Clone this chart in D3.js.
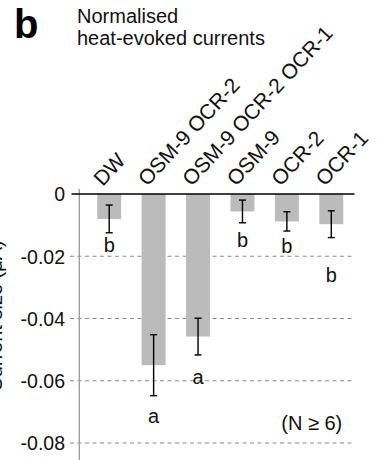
<!DOCTYPE html>
<html>
<head>
<meta charset="utf-8">
<script src="https://cdn.jsdelivr.net/npm/d3@7"></script>
<style>
  html, body { margin: 0; padding: 0; background: #fff; }
  svg { display: block; font-family: "Liberation Sans", Arial, Helvetica, sans-serif; }
</style>
</head>
<body>
<svg id="chart" width="382" height="460"></svg>
<script>
// ---- data ----
const categories = ["DW", "OSM-9 OCR-2", "OSM-9 OCR-2 OCR-1", "OSM-9", "OCR-2", "OCR-1"];
const means = [-0.0080, -0.0550, -0.0458, -0.0056, -0.0088, -0.0097];
const errors = [0.00445, 0.0098, 0.0059, 0.00365, 0.0031, 0.0043];
const groupLetters = ["b", "a", "a", "b", "b", "b"];
const letterValues = [-0.0185, -0.0736, -0.0610, -0.0169, -0.0189, -0.0284];
const yTicks = [0, -0.02, -0.04, -0.06, -0.08];
const yTickLabels = ["0", "-0.02", "-0.04", "-0.06", "-0.08"];
const titleLetter = "b";
const titleLines = ["Normalised", "heat-evoked currents"];
const yTitle = "Current size (μA)";
const noteText = "(N ≥ 6)";
const noteValue = -0.0758;

// ---- scales ----
const svg = d3.select("#chart");
const x = d3.scaleBand().domain(categories).range([87, 353.5]).paddingInner(0.46).paddingOuter(0.23);
const y = d3.scaleLinear().domain([0, -0.08]).range([194, 443]);

const font = 20;

// title
svg.append("text").attr("x", 14).attr("y", 38).attr("font-size", 40).attr("font-weight", "bold").attr("fill", "#000").text(titleLetter);
svg.append("g").selectAll("text").data(titleLines).join("text")
  .attr("x", 77).attr("y", (d, i) => 22.7 + i * 22.5)
  .attr("font-size", font).attr("fill", "#111").text(d => d);

// y axis title (mostly off-canvas, as in the original)
svg.append("text")
  .attr("transform", `translate(2,316) rotate(-90)`)
  .attr("text-anchor", "middle").attr("font-size", font).attr("fill", "#111")
  .text(yTitle);

// gridlines (dashed) for non-zero ticks
svg.append("g").selectAll("line").data(yTicks.filter(d => d !== 0)).join("line")
  .attr("x1", 70).attr("x2", 352)
  .attr("y1", d => y(d)).attr("y2", d => y(d))
  .attr("stroke", "#8a8a8a").attr("stroke-width", 1).attr("stroke-dasharray", "4,3.5");

// bars
svg.append("g").selectAll("rect").data(categories).join("rect")
  .attr("x", d => x(d)).attr("width", x.bandwidth())
  .attr("y", y(0)).attr("height", (d, i) => y(means[i]) - y(0))
  .attr("fill", "#bbbbbb");

// y axis vertical line
svg.append("line").attr("x1", 79.3).attr("x2", 79.3).attr("y1", 189).attr("y2", 460)
  .attr("stroke", "#999").attr("stroke-width", 1.3);

// zero line
svg.append("line").attr("x1", 71.5).attr("x2", 354.5).attr("y1", y(0)).attr("y2", y(0))
  .attr("stroke", "#000").attr("stroke-width", 1.4);

// tick labels via axis
const yAxis = d3.axisLeft(y).tickValues(yTicks).tickSize(0).tickPadding(0)
  .tickFormat((d, i) => yTickLabels[i]);
const ga = svg.append("g").attr("transform", "translate(65,0)").call(yAxis);
ga.select(".domain").remove();
ga.selectAll("text").attr("font-size", 19.5).attr("fill", "#111")
  .attr("font-family", "'Liberation Sans', Arial, Helvetica, sans-serif").attr("dy", "0.35em");

// error bars
const eb = svg.append("g").attr("stroke", "#000").attr("stroke-width", 1.4);
categories.forEach((c, i) => {
  const cx = x(c) + x.bandwidth() / 2;
  const lo = y(means[i] - errors[i]), hi = y(means[i] + errors[i]);
  eb.append("line").attr("x1", cx).attr("x2", cx).attr("y1", hi).attr("y2", lo);
  eb.append("line").attr("x1", cx - 3.5).attr("x2", cx + 3.5).attr("y1", hi).attr("y2", hi);
  eb.append("line").attr("x1", cx - 3.5).attr("x2", cx + 3.5).attr("y1", lo).attr("y2", lo);
});

// group letters
svg.append("g").selectAll("text").data(categories).join("text")
  .attr("x", d => x(d) + x.bandwidth() / 2)
  .attr("y", (d, i) => y(letterValues[i]))
  .attr("text-anchor", "middle").attr("font-size", font).attr("fill", "#111")
  .text((d, i) => groupLetters[i]);

// category labels
svg.append("g").selectAll("text").data(categories).join("text")
  .attr("transform", d => `translate(${x(d) + x.bandwidth() / 2 - 6.5},187) rotate(-47)`)
  .attr("font-size", 21).attr("fill", "#111")
  .text(d => d);

// note
svg.append("text").attr("x", x(categories[5]) + x.bandwidth() - 1).attr("y", y(noteValue))
  .attr("text-anchor", "end").attr("font-size", font).attr("fill", "#111").text(noteText);
</script>
</body>
</html>
